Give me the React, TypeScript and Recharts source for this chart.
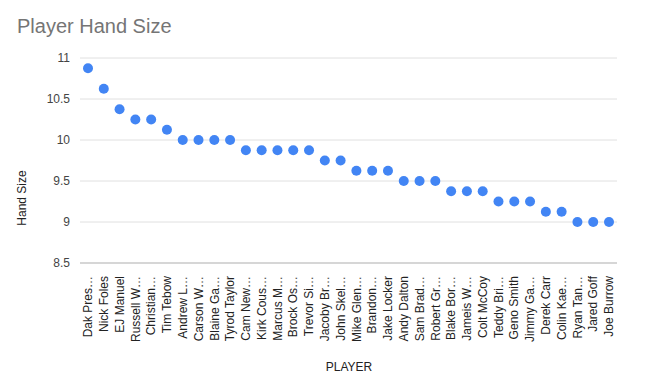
import React from "react";
import { CartesianGrid, Line, LineChart, XAxis, YAxis } from "recharts";

const players = [
  "Dak Pres…", "Nick Foles", "EJ Manuel", "Russell W…", "Christian…", "Tim Tebow",
  "Andrew L…", "Carson W…", "Blaine Ga…", "Tyrod Taylor", "Cam New…", "Kirk Cous…",
  "Marcus M…", "Brock Os…", "Trevor Si…", "Jacoby Br…", "John Skel…", "Mike Glen…",
  "Brandon…", "Jake Locker", "Andy Dalton", "Sam Brad…", "Robert Gr…", "Blake Bor…",
  "Jameis W…", "Colt McCoy", "Teddy Bri…", "Geno Smith", "Jimmy Ga…", "Derek Carr",
  "Colin Kae…", "Ryan Tan…", "Jared Goff", "Joe Burrow",
];

const handSize = [
  10.875, 10.625, 10.375, 10.25, 10.25, 10.125,
  10, 10, 10, 10, 9.875, 9.875,
  9.875, 9.875, 9.875, 9.75, 9.75, 9.625,
  9.625, 9.625, 9.5, 9.5, 9.5, 9.375,
  9.375, 9.375, 9.25, 9.25, 9.25, 9.125,
  9.125, 9, 9, 9,
];

const yTicks = [8.5, 9, 9.5, 10, 10.5, 11];

const data = players.map((name, i) => ({ name, size: handSize[i] }));

const font = "'Liberation Sans', Arial, sans-serif";

function PlayerTick({ x, y, payload }: any) {
  return (
    <text
      x={0}
      y={0}
      transform={`translate(${x},${y + 5}) rotate(-90)`}
      textAnchor="end"
      dy="0.35em"
      fontSize={12}
      fill="#222"
      fontFamily={font}
    >
      {payload.value}
    </text>
  );
}

export default function App() {
  return (
    <div style={{ position: "absolute", left: 0, top: 0, width: 649, height: 379, background: "#fff", fontFamily: font }}>
      <div style={{ position: "absolute", left: 17, top: 15, fontSize: 20, color: "#757575" }}>Player Hand Size</div>
      <div
        style={{
          position: "absolute",
          left: 22,
          top: 198,
          fontSize: 12,
          color: "#222",
          transform: "translate(-50%, -50%) rotate(-90deg)",
          whiteSpace: "nowrap",
        }}
      >
        Hand Size
      </div>
      <div style={{ position: "absolute", left: 349, top: 367, fontSize: 12, color: "#222", transform: "translate(-50%, -50%)" }}>
        PLAYER
      </div>
      <LineChart width={649} height={379} data={data} margin={{ top: 58, right: 32, left: 0, bottom: 16 }}>
        <CartesianGrid vertical={false} stroke="#e0e0e0" />
        <XAxis
          dataKey="name"
          interval={0}
          height={100}
          padding={{ left: 8, right: 8 }}
          tickLine={false}
          axisLine={{ stroke: "#bdbdbd" }}
          tick={<PlayerTick />}
        />
        <YAxis
          width={80}
          domain={[8.5, 11]}
          ticks={yTicks}
          axisLine={false}
          tickLine={false}
          tickMargin={4}
          tick={{ fontSize: 12, fill: "#444", fontFamily: font }}
        />
        <Line
          dataKey="size"
          stroke="none"
          dot={{ r: 5, fill: "#4285f4", stroke: "none" }}
          activeDot={false}
          isAnimationActive={false}
        />
      </LineChart>
    </div>
  );
}
